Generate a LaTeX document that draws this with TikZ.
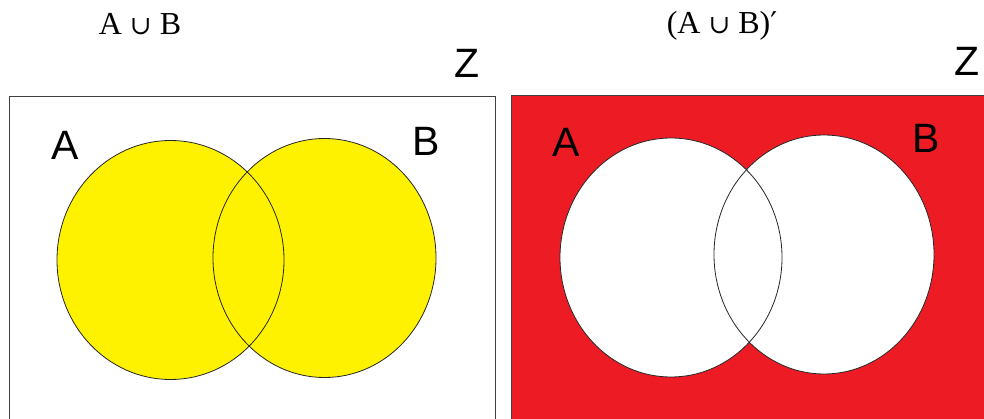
\documentclass[tikz,border=0pt]{standalone}
\usepackage{fontspec}
\setmainfont{Liberation Serif}
\newfontfamily\setfont{Liberation Sans}
\newfontfamily\opfont{DejaVu Serif}
\usetikzlibrary{positioning}
\definecolor{paintyellow}{HTML}{FFF200}
\definecolor{paintred}{HTML}{ED1C24}
\newcommand{\unionsym}{{\opfont\fontsize{26}{26}\selectfont ∪}}
\newcommand{\primesym}{{\opfont\fontsize{30}{30}\selectfont ′}}

\begin{document}
\begin{tikzpicture}[x=1pt,y=-1pt,
    title/.style={font=\fontsize{32}{32}\selectfont, inner sep=0pt},
    setname/.style={font=\setfont\fontsize{41}{41}\selectfont, inner sep=0pt},
    frame/.style={draw=black!75, line width=0.9pt},
    ring/.style={draw=black!85, line width=0.8pt}]
  \useasboundingbox (0,0) rectangle (984,419);
  \clip (0,0) rectangle (984,419);

  % A union B
  \node[title] (tunion) at (140,24) {A \unionsym{} B};
  \draw[frame] (9.5,96.5) rectangle (495,440);
  \fill[paintyellow] (170.5,260) ellipse [x radius=113.5, y radius=119.5];
  \fill[paintyellow] (324.5,258) ellipse [x radius=111.5, y radius=119.5];
  \draw[ring] (170.5,260) ellipse [x radius=113.5, y radius=119.5];
  \draw[ring] (324.5,258) ellipse [x radius=111.5, y radius=119.5];
  \node[setname] (la) at (65,145) {A};
  \node[setname] (lb) at (426,141) {B};
  \node[setname] (lz) at (467,63) {Z};

  % complement of the union
  \node[title] (tcomp) at (722,26) {(A \unionsym{} B)\primesym};
  \fill[paintred] (511.5,95.5) rectangle (1000,440);
  \draw[frame] (511.5,95.5) rectangle (1000,440);
  \fill[white] (671,257.5) ellipse [x radius=111, y radius=119.5];
  \fill[white] (824,254.5) ellipse [x radius=110, y radius=119.5];
  \draw[ring] (671,257.5) ellipse [x radius=111, y radius=119.5];
  \draw[ring] (824,254.5) ellipse [x radius=110, y radius=119.5];
  \node[setname] (ra) at (566,142) {A};
  \node[setname] (rb) at (926,138) {B};
  \node[setname] (rz) at (967,61) {Z};
\end{tikzpicture}
\end{document}
